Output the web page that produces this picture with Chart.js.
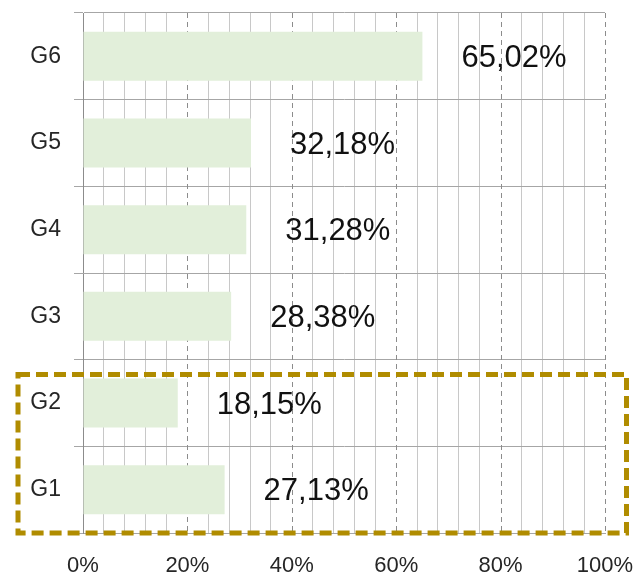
<!DOCTYPE html>
<html lang="es">
<head>
    <meta charset="UTF-8" />
    <title>Porcentaje por grupo</title>
    <script src="https://cdn.jsdelivr.net/npm/chart.js"></script>
    <style>
        body { margin: 0; background: #fff; }
        #grafica { display: block; }
    </style>
</head>
<body>
    <canvas id="grafica" width="633" height="577"></canvas>

    <script>
        // Datos (de arriba hacia abajo)
        const grupos = ['G6', 'G5', 'G4', 'G3', 'G2', 'G1'];
        const porcentajes = [65.02, 32.18, 31.28, 28.38, 18.15, 27.13];
        const grupoResaltado = ['G2', 'G1'];

        const fuente = "'Liberation Sans', Arial, sans-serif";

        function formato(v) {
            return v.toFixed(2).replace('.', ',') + '%';
        }

        // Líneas discontinuas cada 20%
        const lineasPrincipales = {
            id: 'lineasPrincipales',
            beforeDatasetsDraw(chart) {
                const { ctx, chartArea, scales } = chart;
                ctx.save();
                ctx.strokeStyle = '#8c8c8c';
                ctx.lineWidth = 1;
                ctx.setLineDash([5, 4]);
                scales.x.ticks.forEach(t => {
                    if (t.value % 20 !== 0 || t.value === 0) return;
                    const x = Math.round(scales.x.getPixelForValue(t.value)) + 0.5;
                    ctx.beginPath();
                    ctx.moveTo(x, chartArea.top);
                    ctx.lineTo(x, chartArea.bottom);
                    ctx.stroke();
                });
                ctx.restore();
            }
        };

        // Etiquetas de valor a la derecha de cada barra
        const etiquetas = {
            id: 'etiquetas',
            afterDatasetsDraw(chart) {
                const { ctx } = chart;
                const meta = chart.getDatasetMeta(0);
                ctx.save();
                ctx.font = '31px ' + fuente;
                ctx.fillStyle = '#111';
                ctx.textAlign = 'left';
                ctx.textBaseline = 'middle';
                meta.data.forEach((bar, i) => {
                    ctx.fillText(formato(porcentajes[i]), bar.x + 39, bar.y + 2);
                });
                ctx.restore();
            }
        };

        // Recuadro discontinuo alrededor de G2 y G1
        const recuadro = {
            id: 'recuadro',
            afterDraw(chart) {
                const { ctx, scales } = chart;
                const y = scales.y;
                const paso = y.getPixelForValue(1) - y.getPixelForValue(0);
                const arriba = y.getPixelForValue(grupos.indexOf(grupoResaltado[0])) - paso * 0.33;
                const abajo = y.getPixelForValue(grupos.indexOf(grupoResaltado[1])) + paso / 2;
                ctx.save();
                ctx.strokeStyle = '#b08c00';
                ctx.lineWidth = 5;
                ctx.setLineDash([12, 6]);
                ctx.strokeRect(18, arriba, chart.width - 24.5, abajo - arriba);
                ctx.restore();
            }
        };

        new Chart(document.getElementById('grafica'), {
            type: 'bar',
            data: {
                labels: grupos,
                datasets: [{
                    data: porcentajes,
                    backgroundColor: '#e2efda',
                    borderWidth: 0,
                    barPercentage: 0.565,
                    categoryPercentage: 1
                }]
            },
            options: {
                indexAxis: 'y',
                responsive: false,
                animation: false,
                layout: { padding: { top: 13, right: 28, left: 0, bottom: 0 } },
                plugins: {
                    legend: { display: false },
                    tooltip: { enabled: false }
                },
                scales: {
                    x: {
                        min: 0,
                        max: 100,
                        afterFit: s => {
                            s.height = 44;
                            s.paddingLeft = 0;
                            s.paddingRight = 0;
                        },
                        ticks: {
                            stepSize: 4,
                            autoSkip: false,
                            maxRotation: 0,
                            padding: 20,
                            color: '#262626',
                            font: { family: fuente, size: 22 },
                            callback: v => (v % 20 === 0 ? v + '%' : '')
                        },
                        grid: {
                            drawTicks: false,
                            color: c => (c.tick && c.tick.value % 20 === 0 ? 'rgba(0,0,0,0)' : '#c8c8c8')
                        },
                        border: { color: '#a6a6a6' }
                    },
                    y: {
                        afterFit: s => {
                            s.width = 83;
                            s.paddingTop = 0;
                            s.paddingBottom = 0;
                        },
                        ticks: {
                            padding: 13,
                            color: '#262626',
                            font: { family: fuente, size: 23 }
                        },
                        grid: {
                            color: '#a6a6a6',
                            tickLength: 9
                        },
                        border: { color: '#8c8c8c' }
                    }
                }
            },
            plugins: [lineasPrincipales, etiquetas, recuadro]
        });
    </script>
</body>
</html>
